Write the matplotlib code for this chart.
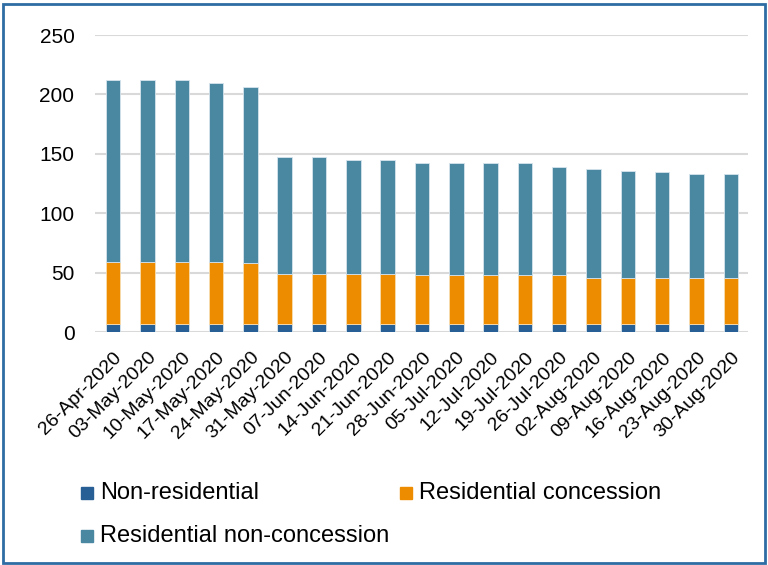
import numpy as np
import matplotlib.pyplot as plt
from matplotlib.patches import Rectangle

plt.rcParams['font.family'] = ['Liberation Sans', 'DejaVu Sans']

dates = ['26-Apr-2020', '03-May-2020', '10-May-2020', '17-May-2020', '24-May-2020',
         '31-May-2020', '07-Jun-2020', '14-Jun-2020', '21-Jun-2020', '28-Jun-2020',
         '05-Jul-2020', '12-Jul-2020', '19-Jul-2020', '26-Jul-2020', '02-Aug-2020',
         '09-Aug-2020', '16-Aug-2020', '23-Aug-2020', '30-Aug-2020']
non_residential = [7, 7, 7, 7, 7, 7, 7, 7, 7, 7, 7, 7, 7, 7, 7, 7, 7, 7, 7]
res_concession = [52, 52, 52, 52, 51, 42, 42, 42, 42, 41, 41, 41, 41, 41, 39, 39, 39, 39, 39]
res_non_concession = [153, 153, 153, 151, 148, 98, 98, 96, 96, 94, 94, 94, 94, 91, 91, 90, 89, 87, 87]

c_navy = '#285F94'
c_orange = '#EE8C00'
c_teal = '#4A88A2'

fig = plt.figure(figsize=(7.68, 5.65), dpi=100)
ax = fig.add_axes([0.124, 0.412, 0.85, 0.526])

x = np.arange(len(dates))
w = 0.42
nr = np.array(non_residential)
rc = np.array(res_concession)
rn = np.array(res_non_concession)
ax.bar(x, nr, w, color=c_navy, edgecolor='#d6e4ee', linewidth=0.6, zorder=3)
ax.bar(x, rc, w, bottom=nr, color=c_orange, edgecolor='#f8dcb0', linewidth=0.6, zorder=3)
ax.bar(x, rn, w, bottom=nr + rc, color=c_teal, edgecolor='#d6e4ee', linewidth=0.6, zorder=3)

ax.set_ylim(0, 250)
ax.set_xlim(-0.52, len(dates) - 0.5)
ax.set_yticks(range(0, 251, 50))
ax.yaxis.grid(True, color='#d9d9d9', linewidth=1.5)
ax.set_axisbelow(True)
for s in ['top', 'right', 'left', 'bottom']:
    ax.spines[s].set_visible(False)
ax.tick_params(axis='both', length=0)
ax.tick_params(axis='y', labelsize=15, pad=15)
ax.tick_params(axis='x', pad=12)
ax.set_xticks(x)
ax.set_xticklabels(dates, rotation=45, ha='right', rotation_mode='anchor', fontsize=14)

# legend laid out by hand: two entries on the first row, one on the second
labels = ['Non-residential', 'Residential concession', 'Residential non-concession']
colors = [c_navy, c_orange, c_teal]
spots = [(0.105, 0.128), (0.521, 0.128), (0.105, 0.052)]
for lab, col, (lx, ly) in zip(labels, colors, spots):
    fig.patches.append(Rectangle((lx, ly - 0.011), 0.0156, 0.0212, transform=fig.transFigure,
                                 color=col))
    fig.text(lx + 0.025, ly, lab, fontsize=17, va='center', ha='left')

fig.patches.append(Rectangle((0.004, 0.003), 0.992, 0.99, transform=fig.transFigure,
                             fill=False, edgecolor='#2E6DA4', linewidth=2))

fig.savefig('out.png', dpi=100)
